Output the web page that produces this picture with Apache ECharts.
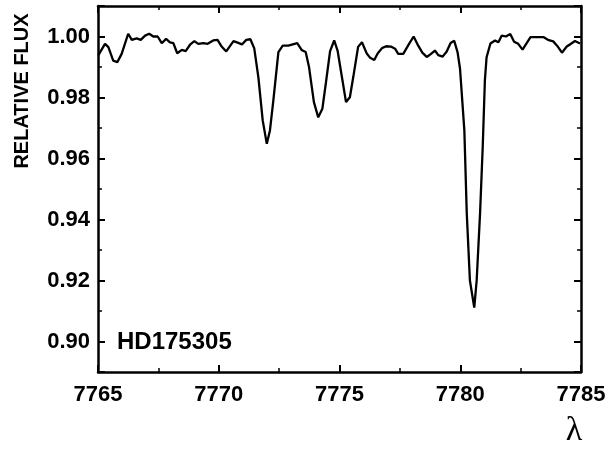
<!DOCTYPE html>
<html>
<head>
<meta charset="utf-8">
<script src="https://cdn.jsdelivr.net/npm/echarts@6/dist/echarts.min.js"></script>
<style>
  html, body { margin: 0; padding: 0; background: #fff; }
  #chart { width: 610px; height: 449px; }
</style>
</head>
<body>
<div id="chart"></div>
<script>
// spectrum
const wavelength = [
  7765.01, 7765.29, 7765.43, 7765.63, 7765.80, 7765.98, 7766.25, 7766.40, 7766.60, 7766.77,
  7766.95, 7767.12, 7767.29, 7767.47, 7767.64, 7767.82, 7767.98, 7768.12, 7768.28, 7768.47,
  7768.63, 7768.81, 7768.99, 7769.15, 7769.36, 7769.54, 7769.77, 7769.95, 7770.12, 7770.31,
  7770.61, 7770.81, 7770.96, 7771.14, 7771.31, 7771.47, 7771.64, 7771.82, 7771.99, 7772.12,
  7772.26, 7772.47, 7772.65, 7772.88, 7773.25, 7773.43, 7773.60, 7773.74, 7773.94, 7774.12,
  7774.29, 7774.44, 7774.61, 7774.78, 7774.92, 7775.09, 7775.27, 7775.43, 7775.57, 7775.77,
  7775.93, 7776.13, 7776.27, 7776.44, 7776.58, 7776.76, 7776.93, 7777.13, 7777.30, 7777.43,
  7777.64, 7777.88, 7778.07, 7778.26, 7778.43, 7778.61, 7778.79, 7778.95, 7779.09, 7779.27,
  7779.44, 7779.60, 7779.75, 7779.89, 7779.99, 7780.17, 7780.27, 7780.40, 7780.58, 7780.68,
  7780.82, 7780.93, 7781.02, 7781.09, 7781.25, 7781.44, 7781.58, 7781.72, 7781.89, 7782.07,
  7782.23, 7782.40, 7782.58, 7782.75, 7782.91, 7783.44, 7783.63, 7783.85, 7784.01, 7784.21,
  7784.41, 7784.54, 7784.75, 7784.96
]
const flux = [
  0.9938, 0.9976, 0.9965, 0.9921, 0.9916, 0.9943, 1.0009, 0.9989, 0.9994, 0.9989,
  1.0003, 1.0009, 1.0000, 1.0000, 0.9978, 0.9992, 0.9981, 0.9978, 0.9945, 0.9956,
  0.9952, 0.9973, 0.9985, 0.9976, 0.9978, 0.9976, 0.9987, 0.9989, 0.9967, 0.9951,
  0.9985, 0.9979, 0.9974, 0.9989, 0.9991, 0.9961, 0.9867, 0.9725, 0.9648, 0.9692,
  0.9790, 0.9949, 0.9970, 0.9970, 0.9978, 0.9956, 0.9949, 0.9899, 0.9785, 0.9735,
  0.9763, 0.9850, 0.9952, 0.9987, 0.9954, 0.9872, 0.9785, 0.9801, 0.9867, 0.9966,
  0.9981, 0.9944, 0.9930, 0.9923, 0.9944, 0.9962, 0.9968, 0.9967, 0.9960, 0.9943,
  0.9943, 0.9976, 1.0000, 0.9970, 0.9947, 0.9933, 0.9943, 0.9954, 0.9939, 0.9934,
  0.9951, 0.9979, 0.9986, 0.9948, 0.9895, 0.9692, 0.9420, 0.9200, 0.9111, 0.9200,
  0.9420, 0.9637, 0.9856, 0.9932, 0.9977, 0.9987, 0.9981, 1.0003, 1.0000, 1.0008,
  0.9983, 0.9976, 0.9957, 0.9978, 0.9998, 0.9998, 0.9989, 0.9984, 0.9970, 0.9947,
  0.9967, 0.9974, 0.9985, 0.9977
]
const starName = 'HD175305'
const yTitle = 'RELATIVE FLUX'
const xTitle = 'λ'

const font = '"Liberation Sans", Arial, sans-serif'

const chart = echarts.init(document.getElementById('chart'))

function xAxisOpt(pos, showLabel) {
  return {
    type: 'value',
    position: pos,
    min: 7765,
    max: 7785,
    interval: 5,
    axisLine: { show: true, onZero: false, lineStyle: { color: '#000', width: 2.5 } },
    axisTick: { show: true, inside: true, length: 7, lineStyle: { color: '#000', width: 2 } },
    minorTick: { show: true, splitNumber: 2, length: 4, lineStyle: { color: '#000', width: 1.5 } },
    axisLabel: {
      show: showLabel,
      margin: 12,
      color: '#000',
      fontFamily: font,
      fontWeight: 'bold',
      fontSize: 22,
      formatter: v => String(v)
    },
    splitLine: { show: false }
  }
}

function yAxisOpt(pos, showLabel) {
  return {
    type: 'value',
    position: pos,
    min: 0.89,
    max: 1.01,
    splitNumber: 6,
    axisLine: { show: true, onZero: false, lineStyle: { color: '#000', width: 2.5 } },
    axisTick: { show: true, inside: true, length: 7, lineStyle: { color: '#000', width: 2 } },
    minorTick: { show: true, splitNumber: 2, length: 4, lineStyle: { color: '#000', width: 1.5 } },
    axisLabel: {
      show: showLabel,
      showMinLabel: false,
      showMaxLabel: false,
      margin: 8,
      color: '#000',
      fontFamily: font,
      fontWeight: 'bold',
      fontSize: 22,
      formatter: v => v.toFixed(2)
    },
    splitLine: { show: false }
  }
}

chart.setOption({
  animation: false,
  backgroundColor: '#fff',
  grid: { left: 98, right: 29, top: 6, bottom: 77 },
  xAxis: [xAxisOpt('bottom', true), xAxisOpt('top', false)],
  yAxis: [yAxisOpt('left', true), yAxisOpt('right', false)],
  graphic: [
    {
      type: 'text',
      x: 22,
      y: 91,
      rotation: Math.PI / 2,
      style: {
        text: yTitle,
        fill: '#000',
        font: 'bold 20px ' + font,
        align: 'center',
        verticalAlign: 'middle'
      }
    },
    {
      type: 'text',
      x: 117,
      y: 342,
      style: {
        text: starName,
        fill: '#000',
        font: 'bold 24px ' + font,
        align: 'left',
        verticalAlign: 'middle'
      }
    },
    {
      type: 'text',
      x: 574,
      y: 431,
      style: {
        text: xTitle,
        fill: '#000',
        font: '34px "Liberation Serif", "Times New Roman", serif',
        align: 'center',
        verticalAlign: 'middle'
      }
    }
  ],
  series: [{
    type: 'line',
    xAxisIndex: 0,
    yAxisIndex: 0,
    data: wavelength.map((w, i) => [w, flux[i]]),
    showSymbol: false,
    symbol: 'none',
    lineStyle: { color: '#000', width: 2.3 },
    silent: true
  }]
})
</script>
</body>
</html>
